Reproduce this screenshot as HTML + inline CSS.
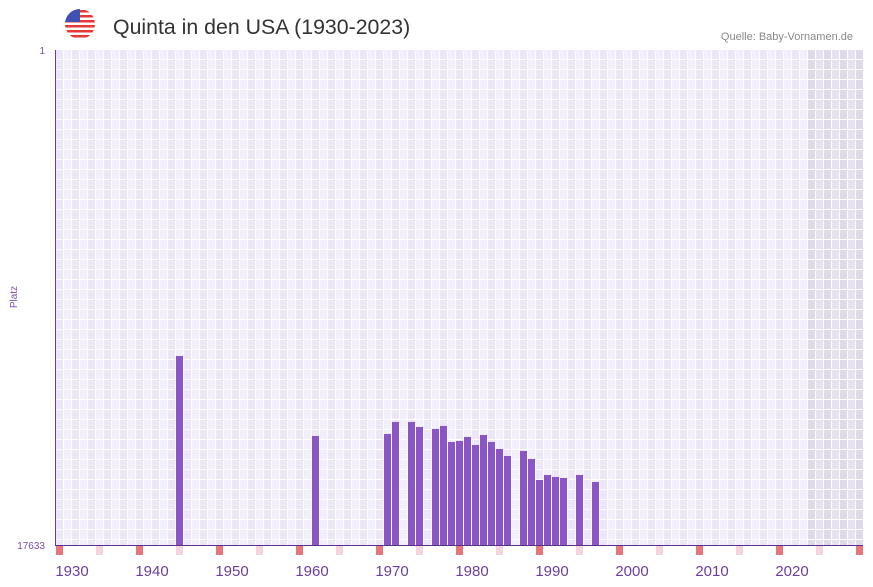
<!DOCTYPE html>
<html><head><meta charset="utf-8"><style>
body{margin:0;background:#fff;width:873px;height:587px;overflow:hidden;font-family:"Liberation Sans",sans-serif}
svg{display:block}
</style></head><body>
<svg id="c" width="873" height="587">
<defs><clipPath id="fc"><circle cx="80" cy="24" r="15"/></clipPath></defs>
<g clip-path="url(#fc)">
<rect x="65" y="9" width="30" height="30" fill="#fff"/>
<rect x="65" y="10" width="30" height="2.5" fill="#e53935"/><rect x="65" y="15" width="30" height="2.5" fill="#e53935"/>
<rect x="65" y="20" width="30" height="2.5" fill="#e53935"/><rect x="65" y="25" width="30" height="2.5" fill="#e53935"/>
<rect x="65" y="30" width="30" height="2.5" fill="#e53935"/><rect x="65" y="35" width="30" height="2.5" fill="#e53935"/>
<rect x="65" y="9" width="15" height="13" fill="#3f51b5"/>
</g>
<text x="113" y="34" font-size="21.3" fill="#333">Quinta in den USA (1930-2023)</text>
<text x="853" y="40" font-size="11" fill="#888" text-anchor="end">Quelle: Baby-Vornamen.de</text>
<text x="45" y="54" font-size="10" fill="#7a4cb0" text-anchor="end">1</text>
<text x="45" y="549" font-size="10" fill="#7a4cb0" text-anchor="end">17633</text>
<text x="17" y="297" font-size="10" fill="#7a4cb0" text-anchor="middle" transform="rotate(-90 17 297)">Platz</text>
<g id="grid"></g><g id="bars"></g><g id="marks"></g><g id="xt"></g>
<line x1="55.5" y1="50" x2="55.5" y2="545" stroke="#6a3fa0"/>
<line x1="55" y1="545.5" x2="863" y2="545.5" stroke="#5a2f90"/>
</svg>
<script>
const years=[1943,1960,1969,1970,1972,1973,1975,1976,1977,1978,1979,1980,1981,1982,1983,1984,1986,1987,1988,1989,1990,1991,1993,1995];
const ranks=[10900,13750,13678,13251,13251,13429,13500,13393,13963,13928,13785,14071,13714,13963,14213,14462,14284,14570,15317,15139,15210,15246,15139,15389];
const tickYears=[1930,1940,1950,1960,1970,1980,1990,2000,2010,2020];
const maxRank=17633,startYear=1928,endYear=2028,lastData=2022;
const NS="http://www.w3.org/2000/svg";
const x0=56,cw=8,yTop=50,yBot=545;
const xs=y=>x0+(y-startYear)*cw;
const ys=r=>yTop+(r-1)/(maxRank-1)*(yBot-yTop);
function mk(t,a,p){const e=document.createElementNS(NS,t);for(const k in a)e.setAttribute(k,a[k]);p.appendChild(e);return e;}
const g=document.getElementById('grid');
for(let y=startYear;y<=endYear;y++){
  const gray=y>=lastData;
  const col=mk('rect',{x:xs(y),y:yTop,width:cw,height:yBot-yTop,fill:gray?(y%2?'#e6e2ef':'#dfdaea'):(y%2?'#f3effa':'#ece6f7')},g);
  
  
  mk('line',{x1:xs(y)+7.5,y1:yTop,x2:xs(y)+7.5,y2:yBot,stroke:'#fff','stroke-width':1},g);
}
for(let yy=yTop+9;yy<yBot;yy+=10){mk('line',{x1:56,y1:yy+0.5,x2:863,y2:yy+0.5,stroke:'#fff','stroke-width':1},g);}
const b=document.getElementById('bars');
years.forEach((y,i)=>{
  const t=ys(ranks[i]);
  const r=mk('rect',{x:xs(y),y:t,width:7,height:yBot-t,fill:'#8b55c6'},b);
  
  
});
const m=document.getElementById('marks');
for(let y=startYear;y<=endYear;y+=5){
  const r=mk('rect',{x:xs(y),y:546,width:7,height:9,fill:(y-startYear)%10===0?'#e8747c':'#f5d5dd'},m);
  
  
}
const xt=document.getElementById('xt');
tickYears.forEach(y=>{
  const t=mk('text',{x:xs(y),y:576,'font-size':15,fill:'#6a3fa0','text-anchor':'middle'},xt);
  t.textContent=y;
  
  
});
</script>
</body></html>
